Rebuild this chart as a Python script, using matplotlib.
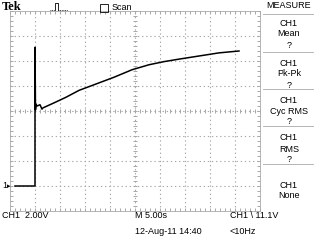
import numpy as np
import matplotlib.pyplot as plt
from matplotlib.lines import Line2D
from matplotlib.transforms import blended_transform_factory

# trace: time (s) and volts above CH1 ground
t = [-24.0, -20.0, -20.0, -19.9, -19.8, -19.6, -19.0, -18.6, -18.4, -16.2, -13.8,
     -11.2, -7.2, -4.2, -0.6, 2.8, 5.8, 8.8, 12.8, 16.8, 20.8]
v = [0.0, 0.0, 11.1, 6.1, 6.55, 6.4, 6.5, 6.15, 6.25, 6.65, 7.1,
     7.65, 8.25, 8.7, 9.3, 9.7, 9.95, 10.15, 10.4, 10.65, 10.8]

menu = [('CH1', 'Mean', '?'), ('CH1', 'Pk-Pk', '?'), ('CH1', 'Cyc RMS', '?'),
        ('CH1', 'RMS', '?'), ('CH1', 'None', '')]

W, H = 320, 240
plt.rcParams['font.family'] = ['Liberation Sans', 'DejaVu Sans']
fig = plt.figure(figsize=(3.2, 2.4), dpi=100)
ax = fig.add_axes([10 / W, (H - 211) / H, 250 / W, 200 / H])

grid = '#a8a8a8'
ax.set_xlim(-25, 25)
ax.set_ylim(-2, 14)
for x in np.arange(-20, 25, 5):
    ax.axvline(x, color=grid, lw=0.8, ls=(0, (1.2, 2.5)), zorder=1)
for y in np.arange(0, 14, 2):
    ax.axhline(y, color=grid, lw=0.8, ls=(0, (1.2, 2.5)), zorder=1)

# ticks on the centre lines
tx = np.arange(-25, 25.1, 1)
ty = np.arange(-2, 14.01, 0.4)
ax.plot(tx, np.full_like(tx, 6.0), ls='none', marker='|', ms=3.5, mew=0.7, color=grid, zorder=1)
ax.plot(np.zeros_like(ty), ty, ls='none', marker='_', ms=3.5, mew=0.7, color=grid, zorder=1)

for s in ax.spines.values():
    s.set_color(grid)
    s.set_linewidth(0.6)
ax.set_xticks(np.arange(-25, 26, 1))
ax.set_yticks(np.arange(-2, 14.01, 0.4))
ax.tick_params(direction='in', length=2.5, width=0.7, color=grid,
               top=True, right=True, labelbottom=False, labelleft=False)

ax.plot(t, v, color='black', lw=1.1, zorder=3)

# ground marker
tr = blended_transform_factory(fig.transFigure, ax.transData)
fig.text(2 / W, 0, '1', transform=tr, fontsize=6.5, va='center', ha='left')
fig.text(7 / W, 0, '\u25b8', transform=tr, fontsize=5, va='center', ha='left',
         family='DejaVu Sans')

# top bar
fig.text(2 / W, 1 - 7 / H, 'Tek', fontsize=9, weight='bold', family='Liberation Serif',
         va='center', ha='left')
px = np.array([50, 55, 55, 58, 58, 60, 60, 63, 63, 68])
py = np.array([10, 10, 3, 3, 10, 10, 10, 10, 10, 10])
fig.add_artist(Line2D(px[:2] / W, 1 - py[:2] / H, color='black', lw=0.6, ls=(0, (1, 1))))
fig.add_artist(Line2D(px[1:5] / W, 1 - py[1:5] / H, color='black', lw=0.6))
fig.add_artist(Line2D(px[4:] / W, 1 - py[4:] / H, color='black', lw=0.6, ls=(0, (1, 1))))
fig.add_artist(plt.Rectangle((100 / W, 1 - 12 / H), 8 / W, 8 / H, fill=False,
                             lw=0.6, ec='black', transform=fig.transFigure))
fig.text(112 / W, 1 - 7 / H, 'Scan', fontsize=6.5, va='center', ha='left')

# measure menu
fig.text(289 / W, 1 - 6 / H, 'MEASURE', fontsize=6.5, va='center', ha='center')
fig.add_artist(Line2D([263 / W, 313 / W], [1 - 14 / H] * 2, color=grid, lw=0.6))
tops = [23, 63, 100, 138, 185]
for (a, b, c), y0 in zip(menu, tops):
    for k, s in enumerate((a, b, c)):
        fig.text(289 / W, 1 - (y0 + 11 * k) / H, s, fontsize=6.5, va='center', ha='center')
for y0 in [52, 89, 126, 164]:
    fig.add_artist(Line2D([263 / W, 313 / W], [1 - y0 / H] * 2, color=grid, lw=0.6))

# bottom status
fig.text(2 / W, 1 - 216 / H, 'CH1  2.00V', fontsize=6.5, va='center', ha='left')
fig.text(135 / W, 1 - 216 / H, 'M 5.00s', fontsize=6.5, va='center', ha='left')
fig.text(230 / W, 1 - 216 / H, 'CH1 \\ 11.1V', fontsize=6.5, va='center', ha='left')
fig.text(135 / W, 1 - 232 / H, '12-Aug-11 14:40', fontsize=6.5, va='center', ha='left')
fig.text(230 / W, 1 - 232 / H, '<10Hz', fontsize=6.5, va='center', ha='left')

fig.savefig('out.png', dpi=100)
